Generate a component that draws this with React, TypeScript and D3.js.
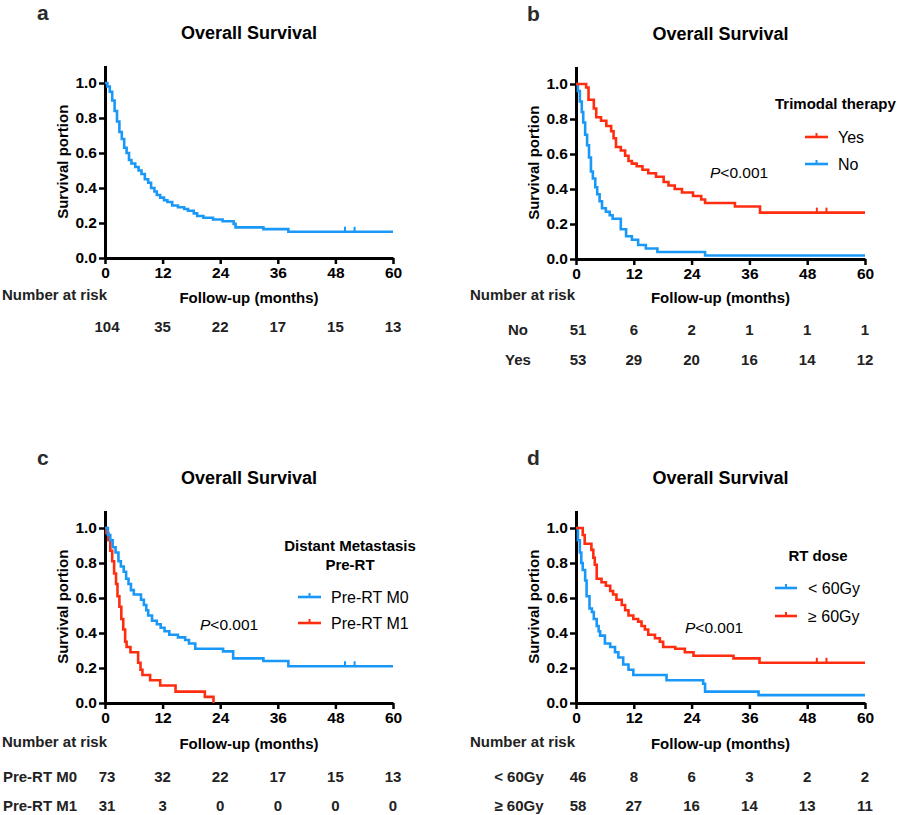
import React, { useEffect, useRef } from "react";
import * as d3 from "d3";

const BLUE = "#1a98f8";
const RED = "#ff2d10";
const FONT = "'Liberation Sans', Arial, Helvetica, sans-serif";

const xTicks = [0, 12, 24, 36, 48, 60];
const yTicks = [0, 0.2, 0.4, 0.6, 0.8, 1.0];
const followUpEnd = 60;

// step curves: [month, survival]
const overallAll = [
  [0, 1], [0.5, 0.98], [1, 0.95], [1.5, 0.9], [2, 0.84], [2.5, 0.78], [3, 0.72], [3.5, 0.68],
  [4, 0.63], [4.5, 0.6], [5, 0.56], [5.5, 0.54], [6.3, 0.52], [7, 0.5], [7.6, 0.48], [8.3, 0.45],
  [9, 0.43], [9.6, 0.4], [10.3, 0.38], [10.8, 0.36], [11.5, 0.345], [12.3, 0.33], [13, 0.32],
  [14, 0.3], [15.2, 0.29], [16.5, 0.28], [17.3, 0.27], [18.5, 0.255], [19.2, 0.24], [20.5, 0.23],
  [22.5, 0.22], [24.5, 0.21], [26.8, 0.195], [27.2, 0.175], [33, 0.165], [38.2, 0.15]
];
const triYes = [
  [0, 1], [2.1, 0.98], [2.6, 0.91], [3.7, 0.86], [4.2, 0.81], [5.2, 0.79], [6.3, 0.76], [7.3, 0.73],
  [7.8, 0.69], [8.3, 0.64], [9.3, 0.62], [10.2, 0.59], [10.9, 0.56], [11.6, 0.545], [12.6, 0.53],
  [13.8, 0.51], [15, 0.49], [16.6, 0.47], [18.2, 0.44], [19.2, 0.42], [20.5, 0.4], [22, 0.38],
  [24.3, 0.36], [26, 0.34], [26.8, 0.32], [33, 0.3], [38.2, 0.265]
];
const triNo = [
  [0, 1], [0.4, 0.96], [0.8, 0.9], [1.2, 0.84], [1.5, 0.78], [1.9, 0.71], [2.3, 0.65], [2.7, 0.58],
  [3.1, 0.5], [3.5, 0.46], [4, 0.41], [4.4, 0.37], [4.9, 0.33], [5.4, 0.29], [6.2, 0.27], [7, 0.25],
  [7.6, 0.23], [9.3, 0.17], [10.4, 0.13], [11.6, 0.11], [12.9, 0.08], [14.5, 0.06], [16.9, 0.04],
  [26.8, 0.02]
];
const preM0 = [
  [0, 1], [0.6, 0.96], [1.1, 0.93], [1.6, 0.89], [2.2, 0.86], [2.8, 0.81], [3.3, 0.78], [3.9, 0.75],
  [4.4, 0.71], [4.9, 0.68], [5.4, 0.645], [6, 0.62], [7.5, 0.59], [8.1, 0.56], [8.6, 0.53], [9, 0.5],
  [9.8, 0.47], [10.8, 0.45], [11.6, 0.43], [12.4, 0.41], [13.4, 0.39], [15.2, 0.375], [16.7, 0.36],
  [17.5, 0.34], [18.8, 0.31], [24.6, 0.295], [26.7, 0.255], [33, 0.24], [38.2, 0.21]
];
const preM1 = [
  [0, 1], [0.3, 0.97], [0.7, 0.93], [1.1, 0.87], [1.5, 0.81], [1.9, 0.74], [2.3, 0.68], [2.6, 0.61],
  [3, 0.55], [3.4, 0.48], [3.8, 0.42], [4.2, 0.35], [4.5, 0.32], [5.3, 0.29], [6.9, 0.23], [7.4, 0.19],
  [7.8, 0.16], [9.4, 0.13], [11.5, 0.1], [14.7, 0.065], [20.8, 0.035], [22.6, 0]
];
const doseLow = [
  [0, 1], [0.4, 0.93], [0.8, 0.86], [1.1, 0.8], [1.4, 0.76], [1.9, 0.7], [2.2, 0.61], [2.8, 0.54],
  [3.3, 0.52], [3.7, 0.48], [4.3, 0.44], [4.7, 0.41], [5, 0.385], [6, 0.34], [7.1, 0.32], [8.1, 0.29],
  [8.8, 0.26], [9.8, 0.22], [10.9, 0.19], [11.9, 0.16], [18.8, 0.13], [26.4, 0.11], [26.8, 0.065],
  [37.9, 0.045]
];
const doseHigh = [
  [0, 1], [1.4, 0.96], [1.8, 0.91], [3.2, 0.875], [3.6, 0.83], [3.9, 0.79], [4.3, 0.71], [5.3, 0.69],
  [6.2, 0.67], [7.1, 0.64], [7.7, 0.62], [8.4, 0.59], [9.5, 0.56], [10.2, 0.53], [10.9, 0.5],
  [11.9, 0.48], [12.9, 0.465], [13.6, 0.44], [14.3, 0.42], [15, 0.39], [16.4, 0.37], [17.4, 0.35],
  [18.1, 0.32], [20.6, 0.31], [22.6, 0.29], [24.4, 0.27], [32.7, 0.255], [38.1, 0.23]
];
const censorTimes = [50, 52];

const riskAll = [104, 35, 22, 17, 15, 13];
const riskNo = [51, 6, 2, 1, 1, 1];
const riskYes = [53, 29, 20, 16, 14, 12];
const riskM0 = [73, 32, 22, 17, 15, 13];
const riskM1 = [31, 3, 0, 0, 0, 0];
const riskLow = [46, 8, 6, 3, 2, 2];
const riskHigh = [58, 27, 16, 14, 13, 11];

const panels = [
  {
    letter: "a", letterX: 37, left: 105, right: 393, bottom: 258,
    series: [{ data: overallAll, color: BLUE, censor: true }],
    riskX: 2, riskY: 300, xLabelY: 303, rows: [{ label: "", values: riskAll, y: 332 }],
    labelX: 40, legend: null, p: null
  },
  {
    letter: "b", letterX: 527, left: 576, right: 865, bottom: 259,
    series: [{ data: triNo, color: BLUE, censor: false }, { data: triYes, color: RED, censor: true }],
    riskX: 470, riskY: 300, xLabelY: 303,
    rows: [{ label: "No", values: riskNo, y: 335 }, { label: "Yes", values: riskYes, y: 365 }],
    labelX: 518,
    legend: {
      title: ["Trimodal therapy"], titleX: 775, anchor: "start", titleY: 109,
      x1: 805, x2: 828, textX: 838,
      items: [{ label: "Yes", color: RED, y: 137 }, { label: "No", color: BLUE, y: 164 }]
    },
    p: { x: 710, y: 178 }
  },
  {
    letter: "c", letterX: 37, left: 105, right: 393, bottom: 703,
    series: [{ data: preM1, color: RED, censor: false }, { data: preM0, color: BLUE, censor: true }],
    riskX: 2, riskY: 747, xLabelY: 749,
    rows: [{ label: "Pre-RT M0", values: riskM0, y: 782 }, { label: "Pre-RT M1", values: riskM1, y: 811 }],
    labelX: 40,
    legend: {
      title: ["Distant Metastasis", "Pre-RT"], titleX: 350, anchor: "middle", titleY: 551,
      x1: 298, x2: 321, textX: 331,
      items: [{ label: "Pre-RT M0", color: BLUE, y: 597 }, { label: "Pre-RT M1", color: RED, y: 623 }]
    },
    p: { x: 200, y: 630 }
  },
  {
    letter: "d", letterX: 527, left: 576, right: 865, bottom: 703,
    series: [{ data: doseLow, color: BLUE, censor: false }, { data: doseHigh, color: RED, censor: true }],
    riskX: 470, riskY: 747, xLabelY: 749,
    rows: [{ label: "< 60Gy", values: riskLow, y: 782 }, { label: "≥ 60Gy", values: riskHigh, y: 811 }],
    labelX: 519,
    legend: {
      title: ["RT dose"], titleX: 818, anchor: "middle", titleY: 561,
      x1: 775, x2: 797, textX: 808,
      items: [{ label: "< 60Gy", color: BLUE, y: 588 }, { label: "≥ 60Gy", color: RED, y: 616 }]
    },
    p: { x: 685, y: 633 }
  }
];

function survAt(data: number[][], t: number) {
  let s = data[0][1];
  data.forEach(d => { if (d[0] <= t) s = d[1]; });
  return s;
}

function drawPanel(svg: any, cfg: any) {
  const g = svg.append("g").attr("font-family", FONT);
  const x = d3.scaleLinear().domain([0, 60]).range([cfg.left, cfg.right]);
  const y = d3.scaleLinear().domain([0, 1.1]).range([cfg.bottom, cfg.bottom - 1.1 * 175]);
  const cx = (cfg.left + cfg.right) / 2;
  const titleBase = cfg.bottom - 219;

  g.append("text").attr("x", cfg.letterX).attr("y", titleBase - 19)
    .attr("font-size", 21).attr("font-weight", "bold").attr("fill", "#2a2a2a").text(cfg.letter);
  g.append("text").attr("x", cx).attr("y", titleBase).attr("text-anchor", "middle")
    .attr("font-size", 18).attr("font-weight", "bold").text("Overall Survival");

  const xAxis = g.append("g").attr("transform", `translate(0,${cfg.bottom})`)
    .call(d3.axisBottom(x).tickValues(xTicks).tickSize(6).tickSizeOuter(0).tickPadding(3));
  const yAxis = g.append("g").attr("transform", `translate(${cfg.left},0)`)
    .call(d3.axisLeft(y).tickValues(yTicks).tickFormat(d3.format(".1f")).tickSize(6).tickSizeOuter(0).tickPadding(2));
  [xAxis, yAxis].forEach(ax => {
    ax.select(".domain").attr("stroke", "#000").attr("stroke-width", 3);
    ax.selectAll(".tick line").attr("stroke", "#000").attr("stroke-width", 2.5);
    ax.selectAll(".tick text").attr("fill", "#000").attr("font-size", 15.5)
      .attr("font-weight", "bold").attr("font-family", FONT);
  });

  g.append("text")
    .attr("transform", `translate(${cfg.left - 42},${y(0.55)}) rotate(-90)`)
    .attr("text-anchor", "middle").attr("dy", "0.35em")
    .attr("font-size", 15).attr("font-weight", "bold").text("Survival portion");

  const line = d3.line<number[]>().x(d => x(d[0])).y(d => y(d[1])).curve(d3.curveStepAfter);
  cfg.series.forEach((s: any) => {
    const last = s.data[s.data.length - 1];
    const pts = last[1] > 0 ? [...s.data, [followUpEnd, last[1]]] : s.data;
    g.append("path").attr("d", line(pts)).attr("fill", "none")
      .attr("stroke", s.color).attr("stroke-width", 2.6);
    if (s.censor) {
      g.selectAll(null).data(censorTimes).join("line")
        .attr("x1", d => x(d)).attr("x2", d => x(d))
        .attr("y1", d => y(survAt(s.data, d))).attr("y2", d => y(survAt(s.data, d)) - 5)
        .attr("stroke", s.color).attr("stroke-width", 2);
    }
  });

  if (cfg.legend) {
    const L = cfg.legend;
    L.title.forEach((t: string, i: number) => {
      g.append("text").attr("x", L.titleX).attr("y", L.titleY + i * 19).attr("text-anchor", L.anchor)
        .attr("font-size", 15).attr("font-weight", "bold").text(t);
    });
    L.items.forEach((it: any) => {
      g.append("line").attr("x1", L.x1).attr("x2", L.x2).attr("y1", it.y).attr("y2", it.y)
        .attr("stroke", it.color).attr("stroke-width", 2.6);
      g.append("line").attr("x1", (L.x1 + L.x2) / 2).attr("x2", (L.x1 + L.x2) / 2)
        .attr("y1", it.y).attr("y2", it.y - 4).attr("stroke", it.color).attr("stroke-width", 2);
      g.append("text").attr("x", L.textX).attr("y", it.y + 5.5).attr("font-size", 16).text(it.label);
    });
  }
  if (cfg.p) {
    const pt = g.append("text").attr("x", cfg.p.x).attr("y", cfg.p.y).attr("font-size", 15.5);
    pt.append("tspan").attr("font-style", "italic").text("P");
    pt.append("tspan").text("<0.001");
  }

  g.append("text").attr("x", cx).attr("y", cfg.xLabelY).attr("text-anchor", "middle")
    .attr("font-size", 15).attr("font-weight", "bold").text("Follow-up (months)");
  g.append("text").attr("x", cfg.riskX).attr("y", cfg.riskY)
    .attr("font-size", 15).attr("font-weight", "bold").attr("fill", "#222").text("Number at risk");

  cfg.rows.forEach((r: any) => {
    if (r.label) {
      g.append("text").attr("x", cfg.labelX).attr("y", r.y).attr("text-anchor", "middle")
        .attr("font-size", 15).attr("font-weight", "bold").attr("fill", "#222").text(r.label);
    }
    g.selectAll(null).data(r.values).join("text")
      .attr("x", (d: number, i: number) => x(xTicks[i]) + (i === 0 ? 2 : 0))
      .attr("y", r.y).attr("text-anchor", "middle")
      .attr("font-size", 15).attr("font-weight", "bold").attr("fill", "#222")
      .text((d: number) => d);
  });
}

export default function App() {
  const ref = useRef<SVGSVGElement>(null);
  useEffect(() => {
    const svg = d3.select(ref.current);
    svg.selectAll("*").remove();
    panels.forEach(p => drawPanel(svg, p));
  }, []);
  return (
    <svg ref={ref} width={900} height={815}
      style={{ position: "absolute", left: 0, top: 0, background: "#fff" }} />
  );
}
